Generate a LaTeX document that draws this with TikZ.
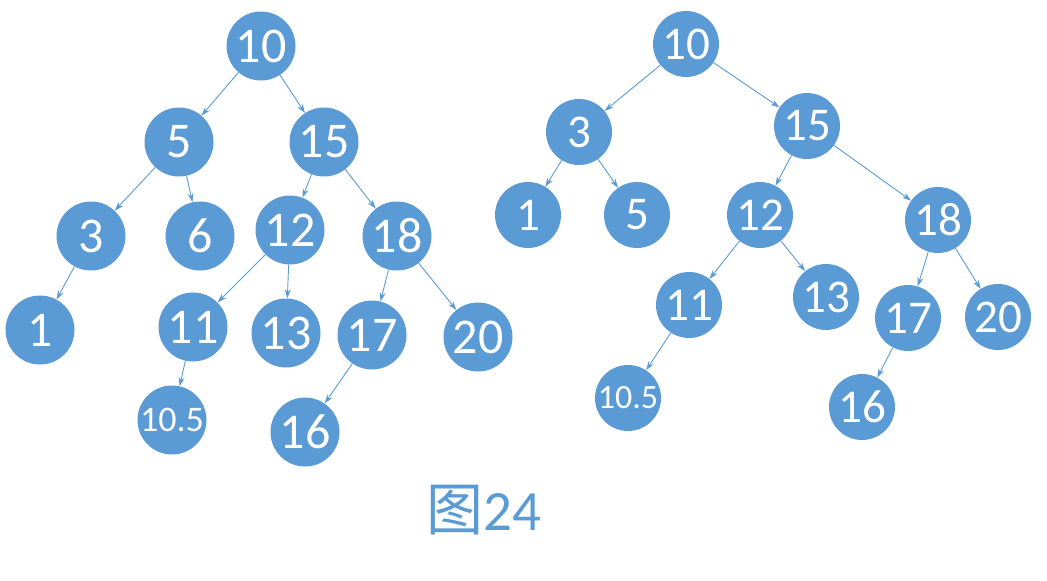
\documentclass[tikz,border=0pt]{standalone}
\usepackage{fontspec}
\setmainfont{Carlito}
\newfontfamily\cjk{Noto Sans CJK SC}
\usetikzlibrary{arrows.meta}
\definecolor{nb}{HTML}{5B9BD5}
\tikzset{
  nd/.style={circle,fill=nb,text=white,minimum size=69pt,inner sep=0pt,font=\fontsize{50}{50}\selectfont},
  ndr/.style={nd,minimum size=66pt,font=\fontsize{47}{47}\selectfont},
  sm/.style={font=\fontsize{36}{36}\selectfont},
  ar/.style={draw=nb,line width=0.9pt,-{Stealth[length=9pt,width=6pt]}},
}
\begin{document}
\begin{tikzpicture}[x=1pt,y=-1pt]
\useasboundingbox (0,0) rectangle (1047,581);
% left tree
\node[nd] (a10) at (261,46) {10};
\node[nd] (a5) at (179,142) {5};
\node[nd] (a15) at (324,142) {15};
\node[nd] (a3) at (91,236) {3};
\node[nd] (a6) at (200,236) {6};
\node[nd] (a12) at (290,230) {12};
\node[nd] (a18) at (397,236) {18};
\node[nd] (a1) at (40,330) {1};
\node[nd] (a11) at (193,327) {11};
\node[nd] (a13) at (286,333) {13};
\node[nd] (a17) at (372,335) {17};
\node[nd] (a20) at (478,337) {20};
\node[nd,sm] (a105) at (172,420) {10.5};
\node[nd] (a16) at (305,432) {16};
\foreach \p/\c in {a10/a5,a10/a15,a5/a3,a5/a6,a15/a12,a15/a18,a3/a1,a12/a11,a12/a13,a18/a17,a18/a20,a11/a105,a17/a16}
  \draw[ar] (\p) -- (\c);
% right tree
\node[ndr] (b10) at (686,44) {10};
\node[ndr] (b3) at (579,132) {3};
\node[ndr] (b15) at (807,126) {15};
\node[ndr] (b1) at (528,215) {1};
\node[ndr] (b5) at (637,215) {5};
\node[ndr] (b12) at (760,215) {12};
\node[ndr] (b18) at (938,220) {18};
\node[ndr] (b11) at (689,305) {11};
\node[ndr] (b13) at (826,297) {13};
\node[ndr] (b17) at (908,318) {17};
\node[ndr] (b20) at (998,317) {20};
\node[ndr,font=\fontsize{34}{34}\selectfont] (b105) at (628,398) {10.5};
\node[ndr] (b16) at (862,407) {16};
\foreach \p/\c in {b10/b3,b10/b15,b3/b1,b3/b5,b15/b12,b15/b18,b12/b11,b12/b13,b18/b17,b18/b20,b11/b105,b17/b16}
  \draw[ar] (\p) -- (\c);
% caption
\node[text=nb,font=\fontsize{57}{57}\selectfont] (cap) at (484,510) {{\cjk 图}24};
\end{tikzpicture}
\end{document}
